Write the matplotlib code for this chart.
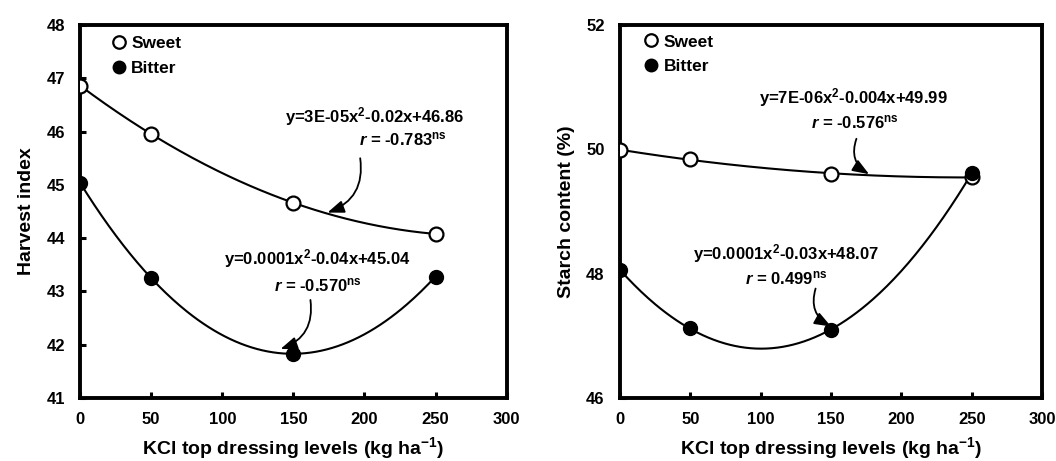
import matplotlib
matplotlib.use("Agg")
import matplotlib.pyplot as plt
import numpy as np

plt.rcParams["font.family"] = ["Liberation Sans", "DejaVu Sans"]
plt.rcParams["font.weight"] = "bold"
plt.rcParams["mathtext.fontset"] = "custom"
plt.rcParams["mathtext.rm"] = "Liberation Sans:bold"
plt.rcParams["mathtext.it"] = "Liberation Sans:italic"
plt.rcParams["mathtext.bf"] = "Liberation Sans:bold"

# KCl levels (kg/ha)
kcl = [0, 50, 150, 250]

# Harvest index
hi_sweet = [46.86, 45.96, 44.66, 44.08]
hi_bitter = [45.04, 43.25, 41.83, 43.28]

# Starch content (%)
sc_sweet = [49.99, 49.84, 49.61, 49.55]
sc_bitter = [48.06, 47.12, 47.10, 49.62]

xticks = [0, 50, 100, 150, 200, 250, 300]
hi_yticks = [41, 42, 43, 44, 45, 46, 47, 48]
sc_yticks = [46, 48, 50, 52]

xlabel = "KCl top dressing levels (kg ha$^{-1}$)"


def panel(ax, ys, yb, ylim, yticks, ylabel, leg_anchor, notes):
    xs = np.linspace(0, 250, 200)
    for y in (ys, yb):
        c = np.polyfit(kcl, y, 2)
        ax.plot(xs, np.polyval(c, xs), color="black", lw=1.5, zorder=2)
    ax.plot(kcl, ys, "o", mfc="white", mec="black", mew=1.6, ms=10,
            label="Sweet", zorder=3)
    ax.plot(kcl, yb, "o", mfc="black", mec="black", ms=10,
            label="Bitter", zorder=3)
    ax.set_xlim(0, 300)
    ax.set_ylim(*ylim)
    ax.set_xticks(xticks)
    ax.set_yticks(yticks)
    ax.tick_params(direction="in", length=4, width=2.2, labelsize=12)
    ax.tick_params(axis="y", pad=11)
    ax.tick_params(axis="x", pad=10)
    for s in ax.spines.values():
        s.set_linewidth(2.8)
    ax.set_ylabel(ylabel, fontsize=14, fontweight="bold", labelpad=8)
    ax.set_xlabel(xlabel, fontsize=14, fontweight="bold", labelpad=6)
    ax.legend(loc="upper left", frameon=False, fontsize=12.5,
              handlelength=0.8, handletextpad=0.3, labelspacing=0.55,
              borderaxespad=0, borderpad=0, bbox_to_anchor=leg_anchor,
              markerscale=0.9)
    for eq, rtxt, tx, ty, rx, ry, a0, a1, rad in notes:
        ax.text(tx, ty, eq, ha="center", va="center", fontsize=12)
        ax.text(rx, ry, rtxt, ha="center", va="center", fontsize=12)
        ax.annotate("", xy=a1, xytext=a0,
                    arrowprops=dict(arrowstyle="-|>,head_length=1.0,head_width=0.38",
                                    color="black", lw=1.3, shrinkA=0, shrinkB=0,
                                    connectionstyle=f"arc3,rad={rad}"))


fig = plt.figure(figsize=(10.56, 4.61), dpi=100)
ax1 = fig.add_axes([0.0758, 0.1367, 0.404, 0.809])
ax2 = fig.add_axes([0.587, 0.1367, 0.400, 0.809])

panel(ax1, hi_sweet, hi_bitter, (41, 48), hi_yticks, "Harvest index",
      (0.075, 0.97), [
    ("y=3E-05x$^{2}$-0.02x+46.86", "$\\it{r}$ = -0.783$^{\\rm ns}$",
     207, 46.29, 227, 45.86, (197, 45.5), (174, 44.48), -0.4),
    ("y=0.0001x$^{2}$-0.04x+45.04", "$\\it{r}$ = -0.570$^{\\rm ns}$",
     167, 43.61, 167, 43.12, (162, 42.84), (141, 41.92), -0.4),
])
panel(ax2, sc_sweet, sc_bitter, (46, 52), sc_yticks, "Starch content (%)",
      (0.058, 0.975), [
    ("y=7E-06x$^{2}$-0.004x+49.99", "$\\it{r}$ = -0.576$^{\\rm ns}$",
     166, 50.84, 167, 50.44, (168, 50.17), (177, 49.6), 0.4),
    ("y=0.0001x$^{2}$-0.03x+48.07", "$\\it{r}$ = 0.499$^{\\rm ns}$",
     118, 48.33, 118, 47.93, (139, 47.76), (150, 47.15), 0.4),
])

fig.savefig("out.png", dpi=100)
